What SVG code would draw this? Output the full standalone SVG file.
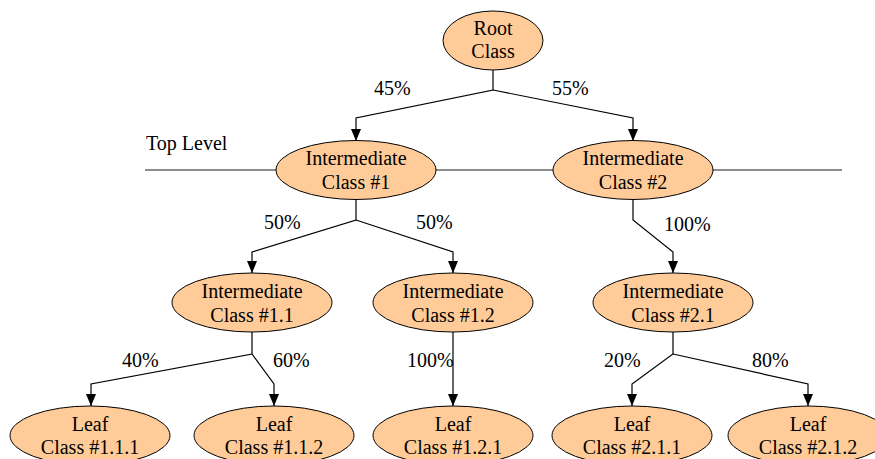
<svg xmlns="http://www.w3.org/2000/svg" width="875" height="459" viewBox="0 0 875 459">
<style>
.n ellipse{fill:#FFCC99;stroke:#000;stroke-width:1}
.n text{text-anchor:middle}
.c{fill:none;stroke:#000;stroke-width:1.2}
.lvl{stroke:#666;stroke-width:1.5}
</style>
<g font-family="Liberation Serif" font-size="20" fill="#000">
<g id="level">
<line class="lvl" x1="145" y1="170" x2="276" y2="170"/>
<line class="lvl" x1="436" y1="170" x2="553" y2="170"/>
<line class="lvl" x1="713" y1="170" x2="842" y2="170"/>
<text x="146" y="150">Top Level</text>
</g>
<g id="connectors">
<path class="c" d="M493,70 V90 L356,118 V141"/>
<path class="c" d="M493,90 L633,118 V141"/>
<path class="c" d="M356,199 V220 L252,252 V273"/>
<path class="c" d="M356,220 L453,252 V273"/>
<path class="c" d="M633,199 V220 L673,252 V273"/>
<path class="c" d="M252,332 V354 L91,384 V406"/>
<path class="c" d="M252,354 L274,384 V406"/>
<path class="c" d="M453,332 V406"/>
<path class="c" d="M673,332 V354 L632,384 V406"/>
<path class="c" d="M673,354 L808,384 V406"/>
<g fill="#000">
<path d="M351,129 L361,129 L356,141 Z"/>
<path d="M628,129 L638,129 L633,141 Z"/>
<path d="M247,261 L257,261 L252,273 Z"/>
<path d="M448,261 L458,261 L453,273 Z"/>
<path d="M668,261 L678,261 L673,273 Z"/>
<path d="M86,394 L96,394 L91,406 Z"/>
<path d="M269,394 L279,394 L274,406 Z"/>
<path d="M448,394 L458,394 L453,406 Z"/>
<path d="M627,394 L637,394 L632,406 Z"/>
<path d="M803,394 L813,394 L808,406 Z"/>
</g>
<text x="374" y="95">45%</text>
<text x="552" y="95">55%</text>
<text x="264" y="229">50%</text>
<text x="416" y="229">50%</text>
<text x="664" y="231">100%</text>
<text x="122" y="367">40%</text>
<text x="273" y="367">60%</text>
<text x="407" y="367">100%</text>
<text x="604" y="367">20%</text>
<text x="752" y="367">80%</text>
</g>
<g id="root" class="n"><ellipse cx="493" cy="40.5" rx="50" ry="29.5"/><text x="493" y="35">Root</text><text x="493" y="58">Class</text></g>
<g id="int1" class="n"><ellipse cx="356" cy="170" rx="80" ry="29.5"/><text x="356" y="165">Intermediate</text><text x="356" y="189">Class #1</text></g>
<g id="int2" class="n"><ellipse cx="633" cy="170" rx="80" ry="29.5"/><text x="633" y="165">Intermediate</text><text x="633" y="189">Class #2</text></g>
<g id="int11" class="n"><ellipse cx="252" cy="302.5" rx="80" ry="29.5"/><text x="252" y="298">Intermediate</text><text x="252" y="322">Class #1.1</text></g>
<g id="int12" class="n"><ellipse cx="453" cy="302.5" rx="80" ry="29.5"/><text x="453" y="298">Intermediate</text><text x="453" y="322">Class #1.2</text></g>
<g id="int21" class="n"><ellipse cx="673" cy="302.5" rx="80" ry="29.5"/><text x="673" y="298">Intermediate</text><text x="673" y="322">Class #2.1</text></g>
<g id="leaf111" class="n"><ellipse cx="90" cy="435.5" rx="80" ry="29.5"/><text x="90" y="431">Leaf</text><text x="90" y="454">Class #1.1.1</text></g>
<g id="leaf112" class="n"><ellipse cx="274" cy="435.5" rx="80" ry="29.5"/><text x="274" y="431">Leaf</text><text x="274" y="454">Class #1.1.2</text></g>
<g id="leaf121" class="n"><ellipse cx="453" cy="435.5" rx="80" ry="29.5"/><text x="453" y="431">Leaf</text><text x="453" y="454">Class #1.2.1</text></g>
<g id="leaf211" class="n"><ellipse cx="632" cy="435.5" rx="80" ry="29.5"/><text x="632" y="431">Leaf</text><text x="632" y="454">Class #2.1.1</text></g>
<g id="leaf212" class="n"><ellipse cx="808" cy="435.5" rx="80" ry="29.5"/><text x="808" y="431">Leaf</text><text x="808" y="454">Class #2.1.2</text></g>
</g>
</svg>
